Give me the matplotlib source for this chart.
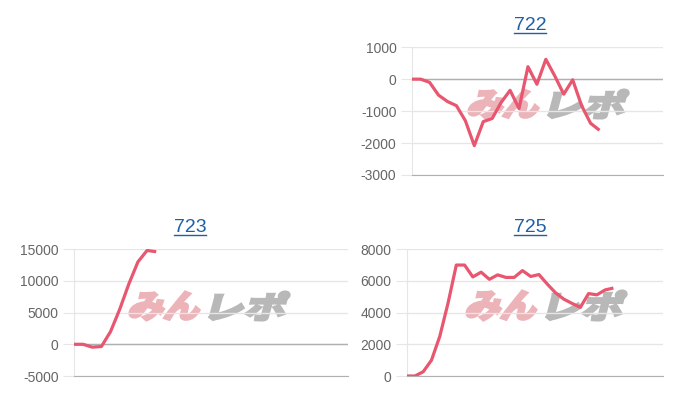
import numpy as np
import matplotlib
matplotlib.use("Agg")
from matplotlib import pyplot as plt
from matplotlib.textpath import TextPath
from matplotlib.font_manager import FontProperties
from matplotlib.patches import PathPatch
from matplotlib.transforms import Affine2D, IdentityTransform
from matplotlib.lines import Line2D

plt.rcParams['font.family'] = ['Liberation Sans', 'DejaVu Sans']
plt.rcParams['axes.unicode_minus'] = False

# data
titles = ["722", "723", "725"]
values_722 = [0, 0, -100, -500, -700, -830, -1300, -2080, -1330, -1230, -730,
              -350, -920, 390, -160, 620, 100, -470, -20, -830, -1380, -1600]
values_723 = [0, 0, -450, -350, 2000, 5500, 9500, 13000, 14800, 14600]
values_725 = [0, 0, 270, 1000, 2500, 4600, 7000, 7000, 6250, 6550, 6100, 6380,
              6220, 6220, 6650, 6280, 6400, 5800, 5250, 4850, 4580, 4330,
              5200, 5120, 5430, 5550]
ticks_722 = [-3000, -2000, -1000, 0, 1000]
ticks_723 = [-5000, 0, 5000, 10000, 15000]
ticks_725 = [0, 2000, 4000, 6000, 8000]

W, H = 700, 400
line_color = '#e8566f'
grid_color = '#e6e6e6'
zero_color = '#b0b0b0'
title_color = '#1f5fa6'
jp = FontProperties(family='Noto Sans CJK JP', weight='bold')

fig = plt.figure(figsize=(W / 100, H / 100), dpi=100)


def logo(ax, left, top, bottom):
    h = bottom - top
    slant = h * np.tan(np.radians(15))
    for txt, color, x0, w in (("みん", '#ecb3b9', left, 76),
                              ("レポ", '#b8b8b8', left + 81, 81)):
        p = TextPath((0, 0), txt, size=1, prop=jp)
        e = p.get_extents()
        tr = (Affine2D().translate(-e.x0, -e.y0)
              .scale((w - slant) / e.width, h / e.height)
              .skew_deg(15, 0)
              .translate(x0, H - bottom))
        patch = PathPatch(tr.transform_path(p), fc=color, ec=color, lw=2.2,
                          transform=IdentityTransform(), zorder=1, clip_on=False)
        ax.add_artist(patch)


def panel(rect, values, ticks, xmax, title, title_xy, logo_pos):
    ax = fig.add_axes(rect)
    x = np.arange(len(values))
    ax.plot(x, values, color=line_color, lw=2.3, solid_joinstyle='round',
            solid_capstyle='butt', zorder=3)
    ax.set_xlim(0, xmax)
    ax.set_ylim(ticks[0], ticks[-1])
    ax.set_yticks(ticks)
    ax.set_xticks([])
    ax.grid(axis='y', color=grid_color, lw=1, zorder=0)
    if ticks[0] < 0:
        ax.axhline(0, color=zero_color, lw=1, zorder=2)
    for s in ('top', 'right'):
        ax.spines[s].set_visible(False)
    ax.spines['left'].set_color(grid_color)
    ax.spines['bottom'].set_color(zero_color)
    ax.tick_params(axis='y', labelsize=10, labelcolor='#666666', length=8,
                   color=grid_color, pad=3)
    logo(ax, *logo_pos)
    t = fig.text(title_xy[0] / W, 1 - title_xy[1] / H, title, color=title_color,
                 fontsize=14, ha='center', va='center')
    return ax, t


texts = []
texts.append(panel([411.7 / W, 0.5625, 251.3 / W, 0.3195], values_722, ticks_722,
                   28.1, titles[0], (530, 25), (467, 90, 118))[1])
texts.append(panel([74 / W, 0.06, 274 / W, 0.317], values_723, ticks_723,
                   30, titles[1], (190, 227), (128, 292, 320))[1])
texts.append(panel([406.7 / W, 0.06, 256.3 / W, 0.317], values_725, ticks_725,
                   31, titles[2], (530, 227), (465, 291, 320))[1])

# underline the titles
fig.canvas.draw()
r = fig.canvas.get_renderer()
for t in texts:
    bb = t.get_window_extent(r)
    fig.add_artist(Line2D([bb.x0, bb.x1], [bb.y0 + 1, bb.y0 + 1], color=title_color,
                          lw=1, transform=IdentityTransform()))

fig.savefig("out.png", dpi=100, facecolor='white')
